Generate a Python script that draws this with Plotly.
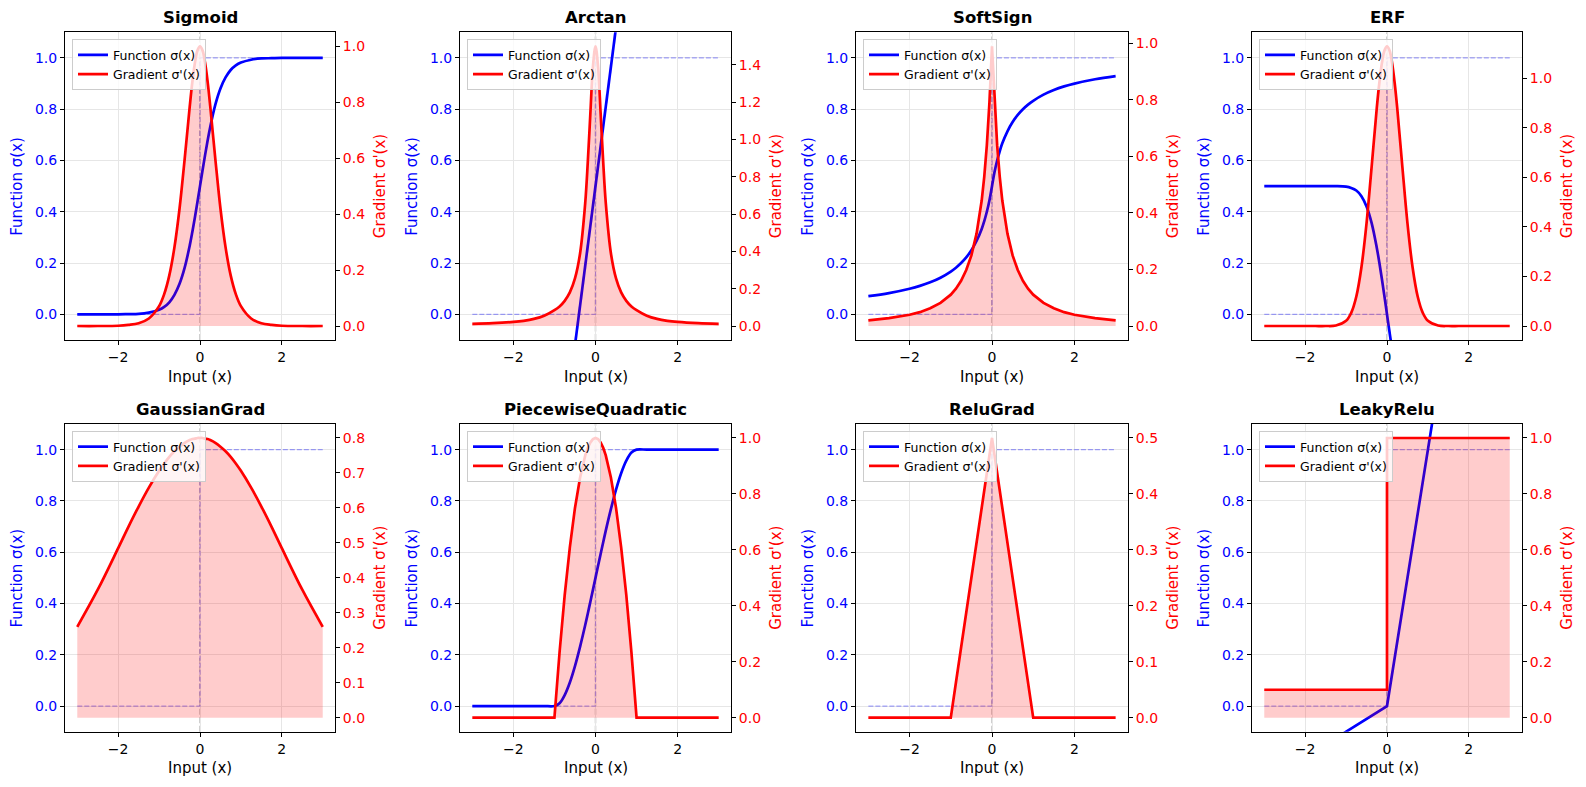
import plotly.graph_objects as go

# sample points along the input axis
x = [-3, -2.5, -2, -1.75, -1.5, -1.25, -1, -0.875, -0.75, -0.625, -0.5, -0.375, -0.25, -0.1875, -0.125, -0.0625,
     0, 0.0625, 0.125, 0.1875, 0.25, 0.375, 0.5, 0.625, 0.75, 0.875, 1, 1.25, 1.5, 1.75, 2, 2.5, 3]

sigmoid_f = [0.000, 0.000, 0.000, 0.001, 0.002, 0.007, 0.018, 0.029, 0.047, 0.076, 0.119, 0.182, 0.269, 0.321, 0.378, 0.438,
             0.500, 0.562, 0.622, 0.679, 0.731, 0.818, 0.881, 0.924, 0.953, 0.971, 0.982, 0.993, 0.998, 0.999, 1.000, 1.000, 1.000]
sigmoid_g = [0.000, 0.000, 0.001, 0.004, 0.010, 0.027, 0.071, 0.114, 0.181, 0.281, 0.420, 0.597, 0.786, 0.872, 0.940, 0.985,
             1.000, 0.985, 0.940, 0.872, 0.786, 0.597, 0.420, 0.281, 0.181, 0.114, 0.071, 0.027, 0.010, 0.004, 0.001, 0.000, 0.000]

arctan_f = [-3.22, -2.60, -1.98, -1.67, -1.36, -1.05, -0.74, -0.585, -0.43, -0.275, -0.12, 0.035, 0.19, 0.268, 0.345, 0.423,
            0.500, 0.578, 0.655, 0.733, 0.81, 0.965, 1.12, 1.275, 1.43, 1.585, 1.74, 2.05, 2.36, 2.67, 2.98, 3.60, 4.22]
arctan_g = [0.011, 0.015, 0.022, 0.028, 0.038, 0.055, 0.085, 0.105, 0.135, 0.180, 0.255, 0.390, 0.660, 0.880, 1.140, 1.390,
            1.500, 1.390, 1.140, 0.880, 0.660, 0.390, 0.255, 0.180, 0.135, 0.105, 0.085, 0.055, 0.038, 0.028, 0.022, 0.015, 0.011]

softsign_f = [0.071, 0.083, 0.100, 0.111, 0.125, 0.143, 0.167, 0.182, 0.200, 0.222, 0.250, 0.286, 0.333, 0.364, 0.400, 0.444,
              0.500, 0.556, 0.600, 0.636, 0.667, 0.714, 0.750, 0.778, 0.800, 0.818, 0.833, 0.857, 0.875, 0.889, 0.900, 0.917, 0.929]
softsign_g = [0.020, 0.028, 0.040, 0.049, 0.063, 0.082, 0.111, 0.132, 0.160, 0.198, 0.250, 0.327, 0.444, 0.529, 0.640, 0.790,
              0.990, 0.790, 0.640, 0.529, 0.444, 0.327, 0.250, 0.198, 0.160, 0.132, 0.111, 0.082, 0.063, 0.049, 0.040, 0.028, 0.020]

erf_f = [0.500, 0.500, 0.500, 0.500, 0.500, 0.500, 0.498, 0.493, 0.483, 0.461, 0.421, 0.356, 0.260, 0.202, 0.138, 0.070,
         0.000, -0.070, -0.138, -0.202, -0.260, -0.356, -0.421, -0.461, -0.483, -0.493, -0.498, -0.500, -0.500, -0.500, -0.500, -0.500, -0.500]
erf_g = [0.000, 0.000, 0.000, 0.000, 0.000, 0.002, 0.021, 0.053, 0.119, 0.237, 0.415, 0.643, 0.879, 0.980, 1.060, 1.111,
         1.128, 1.111, 1.060, 0.980, 0.879, 0.643, 0.415, 0.237, 0.119, 0.053, 0.021, 0.002, 0.000, 0.000, 0.000, 0.000, 0.000]

gauss_f = [None]  # function curve not visible in the picture
gauss_g = [0.260, 0.366, 0.485, 0.546, 0.604, 0.658, 0.706, 0.727, 0.746, 0.762, 0.775, 0.786, 0.794, 0.797, 0.798, 0.800,
           0.800, 0.800, 0.798, 0.797, 0.794, 0.786, 0.775, 0.762, 0.746, 0.727, 0.706, 0.658, 0.604, 0.546, 0.485, 0.366, 0.260]

pquad_f = [0, 0, 0, 0, 0, 0, 0, 0.011, 0.043, 0.092, 0.156, 0.232, 0.316, 0.361, 0.407, 0.453,
           0.500, 0.547, 0.593, 0.639, 0.684, 0.768, 0.844, 0.908, 0.957, 0.989, 1, 1, 1, 1, 1, 1, 1]
pquad_g = [0, 0, 0, 0, 0, 0, 0, 0.234, 0.438, 0.609, 0.750, 0.859, 0.938, 0.965, 0.984, 0.996,
           1.000, 0.996, 0.984, 0.965, 0.938, 0.859, 0.750, 0.609, 0.438, 0.234, 0, 0, 0, 0, 0, 0, 0]

relu_f = [None]  # function curve not visible in the picture
relu_g = [0, 0, 0, 0, 0, 0, 0, 0.063, 0.125, 0.188, 0.250, 0.313, 0.375, 0.406, 0.438, 0.469,
          0.500, 0.469, 0.438, 0.406, 0.375, 0.313, 0.250, 0.188, 0.125, 0.063, 0, 0, 0, 0, 0, 0, 0]

leaky_f = [-0.300, -0.250, -0.200, -0.175, -0.150, -0.125, -0.100, -0.088, -0.075, -0.063, -0.050, -0.038, -0.025, -0.019, -0.013, -0.006,
           0, 0.0625, 0.125, 0.1875, 0.25, 0.375, 0.5, 0.625, 0.75, 0.875, 1, 1.25, 1.5, 1.75, 2, 2.5, 3]
leaky_g = [0.1, 0.1, 0.1, 0.1, 0.1, 0.1, 0.1, 0.1, 0.1, 0.1, 0.1, 0.1, 0.1, 0.1, 0.1, 0.1,
           1, 1, 1, 1, 1, 1, 1, 1, 1, 1, 1, 1, 1, 1, 1, 1, 1]

# dashed step reference (0 left of origin, 1 right of it)
step_x = [-3, 0, 0, 3]
step_y = [0, 0, 1, 1]

titles = ["Sigmoid", "Arctan", "SoftSign", "ERF", "GaussianGrad", "PiecewiseQuadratic", "ReluGrad", "LeakyRelu"]
funcs = [sigmoid_f, arctan_f, softsign_f, erf_f, gauss_f, pquad_f, relu_f, leaky_f]
grads = [sigmoid_g, arctan_g, softsign_g, erf_g, gauss_g, pquad_g, relu_g, leaky_g]
func_shape = ["spline", "linear", "spline", "spline", "linear", "spline", "linear", "linear"]
grad_shape = ["spline", "spline", "linear", "spline", "spline", "linear", "linear", "hv"]
grad_dtick = [0.2, 0.2, 0.2, 0.2, 0.1, 0.2, 0.1, 0.2]

W, H = 1586, 787
col_px = [(65, 335), (460, 731), (856, 1128), (1252, 1522)]
row_px = [(32.3, 340), (424, 731.7)]

FONT = "DejaVu Sans"
BLUE = "#0000ff"
RED = "#ff0000"
GRID = "#e6e6e6"

fig = go.Figure()
layout = {}
annotations = []
shapes = []

for i in range(8):
    r, c = divmod(i, 4)
    left, right = col_px[c]
    top, bot = row_px[r]
    n = i + 1
    xa = "x" if n == 1 else f"x{n}"
    ya = "y" if n == 1 else f"y{n}"
    ya2 = f"y{n + 8}"
    lg = "legend" if n == 1 else f"legend{n}"

    fig.add_trace(go.Scatter(
        x=step_x, y=step_y, mode="lines",
        line=dict(color="rgba(0,0,255,0.35)", width=1.2, dash="5px,2px"),
        xaxis=xa, yaxis=ya, showlegend=False, hoverinfo="skip"))

    f = funcs[i]
    fig.add_trace(go.Scatter(
        x=x[:len(f)], y=f, mode="lines", name="Function σ(x)",
        line=dict(color=BLUE, width=2.7, shape=func_shape[i]),
        xaxis=xa, yaxis=ya, legend=lg))

    g = grads[i]
    # shaded area under the gradient
    fig.add_trace(go.Scatter(
        x=x, y=g, mode="lines", line=dict(width=0, shape=grad_shape[i]),
        fill="tozeroy", fillcolor="rgba(255,0,0,0.2)",
        xaxis=xa, yaxis=ya2, showlegend=False, hoverinfo="skip"))
    fig.add_trace(go.Scatter(
        x=x, y=g, mode="lines", name="Gradient σ'(x)",
        line=dict(color=RED, width=2.7, shape=grad_shape[i]),
        xaxis=xa, yaxis=ya2, legend=lg))

    # vertical reference at x = 0
    shapes.append(dict(type="line", xref=xa, yref=f"{ya} domain", x0=0, x1=0, y0=0, y1=1,
                       line=dict(color="rgba(128,128,128,0.5)", width=1.5, dash="6px,2.5px"),
                       layer="below"))

    gmax = max(g)
    axis_common = dict(showline=True, linecolor="black", linewidth=1, ticks="outside",
                       ticklen=4, tickwidth=1, tickcolor="black", zeroline=False)
    layout["xaxis" if n == 1 else f"xaxis{n}"] = dict(
        domain=[left / W, right / W], anchor=ya, range=[-3.3, 3.3],
        tickvals=[-2, 0, 2], ticktext=["\u22122", "0", "2"],
        tickfont=dict(size=14, color="black", family=FONT),
        showgrid=True, gridcolor=GRID, gridwidth=1, mirror=True, **axis_common)
    layout["yaxis" if n == 1 else f"yaxis{n}"] = dict(
        domain=[1 - bot / H, 1 - top / H], anchor=xa, range=[-0.1, 1.1],
        tick0=0, dtick=0.2, tickformat=".1f",
        tickfont=dict(size=14, color=BLUE, family=FONT),
        showgrid=True, gridcolor=GRID, gridwidth=1, **axis_common)
    layout[f"yaxis{n + 8}"] = dict(
        overlaying=ya, anchor=xa, side="right", range=[-0.05 * gmax, 1.05 * gmax],
        tick0=0, dtick=grad_dtick[i], tickformat=".1f",
        tickfont=dict(size=14, color=RED, family=FONT),
        showgrid=False, **axis_common)

    layout[lg] = dict(
        x=(left + 7) / W, y=1 - (top + 7) / H, xanchor="left", yanchor="top",
        bgcolor="rgba(255,255,255,0.8)", bordercolor="#cccccc", borderwidth=1,
        font=dict(size=12.5, family=FONT, color="black"), tracegroupgap=0)

    cx = (left + right) / 2 / W
    cy = 1 - (top + bot) / 2 / H
    annotations += [
        dict(text=f"<b>{titles[i]}</b>", x=cx, y=1 - (top - 14.5) / H, xref="paper", yref="paper",
             xanchor="center", yanchor="middle", showarrow=False,
             font=dict(size=16.5, family=FONT, color="black")),
        dict(text="Input (x)", x=cx, y=1 - (bot + 36.7) / H, xref="paper", yref="paper",
             xanchor="center", yanchor="middle", showarrow=False,
             font=dict(size=15, family=FONT, color="black")),
        dict(text="Function σ(x)", x=(left - 48.3) / W, y=cy, xref="paper", yref="paper",
             xanchor="center", yanchor="middle", textangle=-90, showarrow=False,
             font=dict(size=15, family=FONT, color=BLUE)),
        dict(text="Gradient σ'(x)", x=(right + 45) / W, y=cy, xref="paper", yref="paper",
             xanchor="center", yanchor="middle", textangle=-90, showarrow=False,
             font=dict(size=15, family=FONT, color=RED)),
    ]

fig.update_layout(
    template="none",
    width=W, height=H,
    margin=dict(l=0, r=0, t=0, b=0),
    paper_bgcolor="white", plot_bgcolor="rgba(0,0,0,0)",
    font=dict(family=FONT, color="black"),
    annotations=annotations, shapes=shapes,
    hovermode="closest",
    **layout,
)

fig.write_html("out.html", config={"displayModeBar": False},
               post_script="document.body.style.margin='0';")
